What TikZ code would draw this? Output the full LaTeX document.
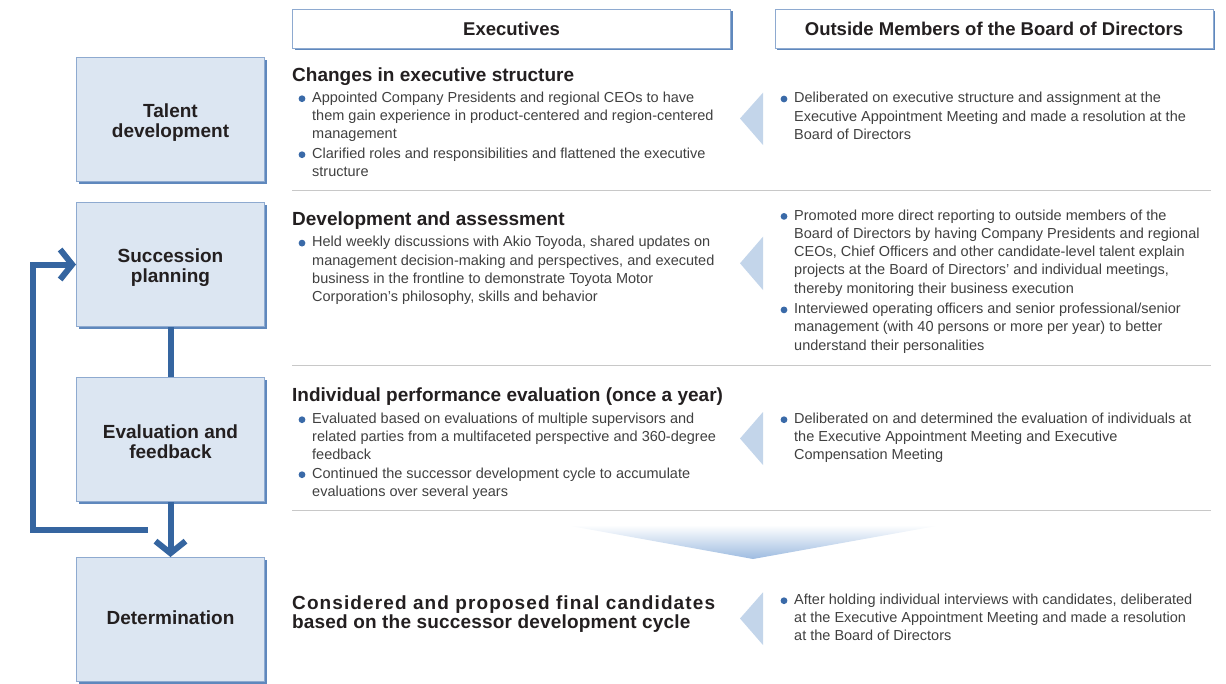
\documentclass[tikz,border=0pt]{standalone}
\usepackage{fontspec}
\setmainfont{Liberation Sans}
\newfontfamily\spacedfont[LetterSpace=5.8]{Liberation Sans}
\newfontfamily\lightspacedfont[LetterSpace=1]{Liberation Sans}
\usetikzlibrary{arrows.meta,shadows}
\definecolor{boxfill}{HTML}{DCE6F2}
\definecolor{boxborder}{HTML}{8EAAD0}
\definecolor{shadowcol}{HTML}{5F88BD}
\definecolor{headtext}{HTML}{231F20}
\definecolor{bodytext}{HTML}{404040}
\definecolor{bulcol}{HTML}{3A6AA8}
\definecolor{flowcol}{HTML}{3565A0}
\definecolor{tricol}{HTML}{C3D5EA}
\definecolor{sepcol}{HTML}{C8C8C8}
\definecolor{chevcol}{HTML}{9DBBE0}
\begin{document}
\begin{tikzpicture}[x=1pt,y=-1pt,
  stagebox/.style={draw=boxborder, line width=1pt, fill=boxfill,
    minimum width=188pt, minimum height=124pt, inner sep=0pt, anchor=north west,
    font=\fontsize{19}{20}\selectfont\bfseries, align=center, text=headtext,
    general shadow={fill=shadowcol, shadow xshift=2pt, shadow yshift=-2pt}},
  colhead/.style={draw=boxborder, line width=1pt, fill=white,
    minimum width=438pt, minimum height=39pt, inner sep=0pt, anchor=north west,
    font=\fontsize{18.5}{20}\selectfont\bfseries, text=headtext,
    general shadow={fill=shadowcol, shadow xshift=2pt, shadow yshift=-2pt}},
  secthead/.style={anchor=base west, inner sep=0pt, text=headtext,
    font=\fontsize{19}{22}\selectfont\bfseries},
  finalhead/.style={anchor=base west, inner sep=0pt, text=headtext, align=left,
    font=\fontsize{19}{19}\selectfont\bfseries},
  item/.style={anchor=base west, inner sep=0pt, text=bodytext, align=left,
    font=\fontsize{14.5}{18.3}\selectfont},
  bulletdot/.style={fill=bulcol},
  pointer/.style={fill=tricol},
  separator/.style={draw=sepcol, line width=1.5pt},
  flow/.style={draw=flowcol, line width=6pt},
  chevtip/.style={-{Straight Barb[length=12pt,width=30pt,line width=6pt]}}
]
\useasboundingbox (0,0) rectangle (1226,683);

% column headers
\node[colhead] (exec) at (292,8.5) {Executives};
\node[colhead] (outside) at (774.5,8.5) {Outside Members of the Board of Directors};

% stage boxes
\node[stagebox] (talent) at (76,57) {\rule{0pt}{20pt}Talent\\development};
\node[stagebox] (succ) at (76,202) {\rule{0pt}{20.6pt}Succession\\planning};
\node[stagebox] (eval) at (76,377) {\rule{0pt}{18pt}Evaluation and\\feedback};
\node[stagebox] (det) at (76,557) {Determination\rule[-4pt]{0pt}{4pt}};

% connectors
\draw[flow] (succ.south) -- (eval.north);
\draw[flow, chevtip] (eval.south) -- (det.north);
\coordinate (loopstart) at (148,529.5);
\draw[flow, chevtip] (loopstart) -- (33,529.5) |- (succ.west);

% separators
\draw[separator] (292,190.5) -- (1211,190.5);
\draw[separator] (292,365.5) -- (1211,365.5);
\draw[separator] (292,510.5) -- (1211,510.5);

% pointers
\fill[pointer] (763,92.7) -- (740,118.5) -- (763,145) -- cycle;
\fill[pointer] (763,236.7) -- (740,263.3) -- (763,290) -- cycle;
\fill[pointer] (763,412) -- (740,438.5) -- (763,465) -- cycle;
\fill[pointer] (763,592.3) -- (740,618.5) -- (763,645) -- cycle;

% down chevron
\shade[top color=white, bottom color=chevcol] (565,525) -- (942,525) -- (753,559) -- cycle;

% section 1 (multi-line nodes: base = baseline of last line)
\node[secthead] (h1) at (292,81) {Changes in executive structure};
\fill[bulletdot] (302,98.7) circle (3.4);
\node[item] (e1a) at (312,138.9) {Appointed Company Presidents and regional CEOs to have\\them gain experience in product-centered and region-centered\\management};
\fill[bulletdot] (302,154.7) circle (3.4);
\node[item] (e1b) at (312,176.6) {Clarified roles and responsibilities and flattened the executive\\structure};
\fill[bulletdot] (784,99) circle (3.4);
\node[item] (o1a) at (794,139.3) {Deliberated on executive structure and assignment at the\\Executive Appointment Meeting and made a resolution at the\\Board of Directors};

% section 2
\node[secthead] (h2) at (292,225.7) {Development and assessment};
\fill[bulletdot] (302,243.1) circle (3.4);
\node[item] (e2a) at (312,301.6) {Held weekly discussions with Akio Toyoda, shared updates on\\management decision-making and perspectives, and executed\\business in the frontline to demonstrate Toyota Motor\\Corporation’s philosophy, skills and behavior};
\fill[bulletdot] (784,216.4) circle (3.4);
\node[item] (o2a) at (794,293.2) {Promoted more direct reporting to outside members of the\\Board of Directors by having Company Presidents and regional\\CEOs, Chief Officers and other candidate-level talent explain\\projects at the Board of Directors’ and individual meetings,\\thereby monitoring their business execution};
\fill[bulletdot] (784,309.9) circle (3.4);
\node[item] (o2b) at (794,350.1) {Interviewed operating officers and senior professional/senior\\management (with 40 persons or more per year) to better\\understand their personalities};

% section 3
\node[secthead] (h3) at (292,401.7) {Individual performance evaluation (once a year)};
\fill[bulletdot] (302,419.7) circle (3.4);
\node[item] (e3a) at (312,459.9) {Evaluated based on evaluations of multiple supervisors and\\related parties from a multifaceted perspective and 360-degree\\feedback};
\fill[bulletdot] (302,474.7) circle (3.4);
\node[item] (e3b) at (312,496.6) {Continued the successor development cycle to accumulate\\evaluations over several years};
\fill[bulletdot] (784,419.7) circle (3.4);
\node[item] (o3a) at (794,459.9) {Deliberated on and determined the evaluation of individuals at\\the Executive Appointment Meeting and Executive\\Compensation Meeting};

% section 4
\node[finalhead] (h4) at (292,628.3) {{\spacedfont\bfseries Considered and proposed final candidates}\\{\lightspacedfont\bfseries based on the successor development cycle}};
\fill[bulletdot] (784,600.7) circle (3.4);
\node[item] (o4a) at (794,640.9) {After holding individual interviews with candidates, deliberated\\at the Executive Appointment Meeting and made a resolution\\at the Board of Directors};
\end{tikzpicture}
\end{document}
